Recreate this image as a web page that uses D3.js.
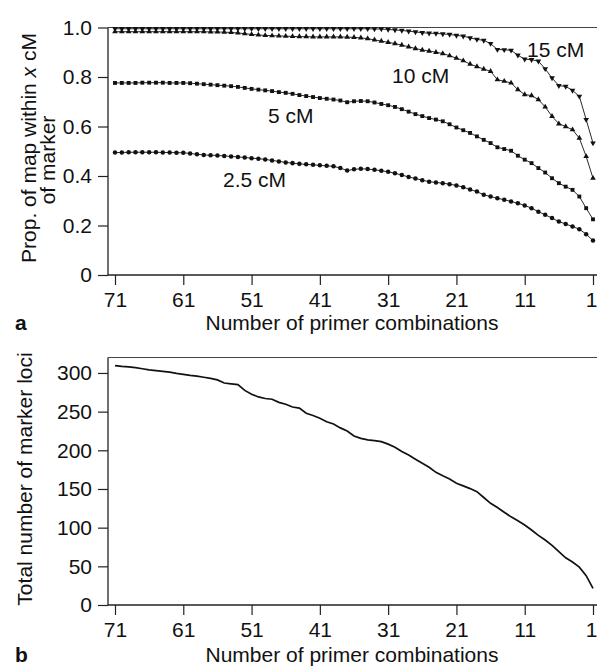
<!DOCTYPE html>
<html>
<head>
<meta charset="utf-8">
<script src="https://cdn.jsdelivr.net/npm/d3@7"></script>
<style>
  body { margin: 0; background: #fff; }
  text { font-family: "Liberation Sans", Arial, Helvetica, sans-serif; fill: #111; }
</style>
</head>
<body>
<script>
// number of primer combinations, left to right
var primers = d3.range(71, 0, -1);
var xTicks = [71, 61, 51, 41, 31, 21, 11, 1];
var propTicks = [0, 0.2, 0.4, 0.6, 0.8, 1.0];
var lociTicks = [0, 50, 100, 150, 200, 250, 300];

// panel a: proportion of map within x cM of a marker (x = 71 ... 1)
var cm15 = [
  0.995,0.995,0.995,0.995,0.995,0.995,0.995,0.995,0.995,0.995,
  0.995,0.995,0.995,0.995,0.995,0.995,0.995,0.995,0.995,0.995,
  0.995,0.995,0.995,0.995,0.995,0.995,0.995,0.995,0.995,0.995,
  0.995,0.995,0.995,0.995,0.995,0.995,0.995,0.995,0.994,0.994,
  0.992,0.990,0.988,0.985,0.982,0.979,0.977,0.976,0.974,0.972,
  0.968,0.965,0.958,0.952,0.948,0.935,0.911,0.910,0.908,0.888,
  0.872,0.870,0.864,0.833,0.796,0.765,0.762,0.746,0.722,0.628,0.533
];
var cm10 = [
  0.983,0.983,0.983,0.983,0.983,0.983,0.983,0.983,0.983,0.983,
  0.983,0.983,0.983,0.983,0.982,0.982,0.981,0.980,0.978,0.975,
  0.972,0.970,0.968,0.967,0.966,0.965,0.964,0.963,0.963,0.962,
  0.962,0.962,0.962,0.962,0.961,0.960,0.958,0.955,0.950,0.945,
  0.940,0.935,0.929,0.922,0.915,0.909,0.905,0.900,0.895,0.886,
  0.876,0.866,0.852,0.842,0.832,0.823,0.789,0.783,0.776,0.749,
  0.729,0.725,0.709,0.679,0.641,0.611,0.600,0.587,0.553,0.479,0.391
];
var cm5 = [
  0.776,0.776,0.776,0.776,0.777,0.777,0.777,0.777,0.776,0.776,
  0.776,0.775,0.773,0.771,0.769,0.767,0.765,0.763,0.760,0.756,
  0.752,0.749,0.746,0.743,0.739,0.736,0.732,0.727,0.723,0.719,
  0.715,0.712,0.709,0.705,0.698,0.702,0.703,0.702,0.697,0.691,
  0.686,0.679,0.670,0.660,0.650,0.642,0.634,0.628,0.621,0.609,
  0.596,0.585,0.574,0.560,0.546,0.533,0.516,0.509,0.502,0.482,
  0.466,0.452,0.432,0.414,0.391,0.371,0.357,0.344,0.317,0.270,0.225
];
var cm25 = [
  0.495,0.495,0.496,0.496,0.496,0.496,0.496,0.495,0.495,0.494,
  0.494,0.491,0.488,0.485,0.484,0.483,0.481,0.479,0.477,0.475,
  0.472,0.470,0.467,0.463,0.459,0.455,0.452,0.449,0.447,0.445,
  0.443,0.441,0.439,0.432,0.422,0.427,0.429,0.428,0.425,0.421,
  0.417,0.411,0.404,0.396,0.390,0.383,0.377,0.374,0.371,0.367,
  0.362,0.355,0.345,0.337,0.324,0.317,0.310,0.304,0.297,0.290,
  0.281,0.270,0.256,0.243,0.230,0.216,0.206,0.196,0.185,0.165,0.139
];
var seriesNames = ["15 cM", "10 cM", "5 cM", "2.5 cM"];

// panel b: total number of marker loci (x = 71 ... 1)
var loci = [
  309.5,308.5,307.8,307,305.5,304,303,302,301,299.5,
  298.3,297,296,294.5,293,291,287,286,285,277.5,
  272.5,269,267,266,262,259.5,256,254.5,248,245,
  241.4,237,234,229,225,218.5,215.5,213.4,212.5,211.2,
  208,204,198.5,194,188.5,183.2,178,171.5,167,163,
  157.4,154,150.5,146.5,139,131.5,126,120,114,109,
  103.5,97,90,84,77,69,61,55.5,49,38,21.6
];

var W = 597, H = 667;
var svg = d3.select("body").append("svg").attr("width", W).attr("height", H);

var x = d3.scaleLinear().domain([71, 1]).range([115, 593]);
var axisLeftX = 108, rightX = 597;
var fontSize = 21;

function styleAxis(a) {
  a.select(".domain").remove();
  a.selectAll("line").attr("stroke", "#222").attr("stroke-width", 1.2);
  a.selectAll("text").style("font-size", fontSize + "px").attr("fill", "#111")
    .style("font-family", '"Liberation Sans", Arial, sans-serif');
}

function drawFrame(y, top, bottom, ticks, fmt, letter, letterY) {
  var g = svg.append("g");
  // y axis
  g.append("g")
    .attr("transform", "translate(" + axisLeftX + ",0)")
    .call(d3.axisLeft(y).tickValues(ticks).tickFormat(fmt).tickSize(10).tickPadding(6).tickSizeOuter(0))
    .call(styleAxis);
  // x axis
  g.append("g")
    .attr("transform", "translate(0," + bottom + ")")
    .call(d3.axisBottom(x).tickValues(xTicks).tickSize(10).tickPadding(7).tickSizeOuter(0))
    .call(styleAxis)
    .call(function(a){
      // keep the last label ("1") inside the page
      a.selectAll(".tick text").filter(function(d){ return d === 1; })
        .attr("text-anchor", "end").attr("dx", "4");
    });
  // frame lines
  g.append("line").attr("x1", axisLeftX).attr("x2", axisLeftX).attr("y1", top).attr("y2", bottom)
    .attr("stroke", "#222").attr("stroke-width", 1.3);
  g.append("line").attr("x1", axisLeftX).attr("x2", rightX).attr("y1", bottom).attr("y2", bottom)
    .attr("stroke", "#222").attr("stroke-width", 1.3);
  g.append("line").attr("x1", axisLeftX).attr("x2", rightX).attr("y1", top).attr("y2", top)
    .attr("stroke", "#444").attr("stroke-width", 1.1);
  // x title and panel letter
  g.append("text").attr("x", 352).attr("y", letterY).attr("text-anchor", "middle")
    .style("font-size", fontSize + "px").text("Number of primer combinations");
  g.append("text").attr("x", 15).attr("y", letterY).style("font-size", fontSize + "px")
    .style("font-weight", "bold").text(letter);
  return g;
}

// ---------- panel a ----------
var yA = d3.scaleLinear().domain([0, 1]).range([275, 27.5]);
drawFrame(yA, 27.5, 275, propTicks, function(d){ return d === 0 ? "0" : d3.format(".1f")(d); }, "a", 330);

var tA = svg.append("text").attr("transform", "translate(36,148) rotate(-90)")
  .attr("text-anchor", "middle").style("font-size", fontSize + "px");
tA.append("tspan").text("Prop. of map within ");
tA.append("tspan").style("font-style", "italic").text("x");
tA.append("tspan").text(" cM");
svg.append("text").attr("transform", "translate(55,160) rotate(-90)")
  .attr("text-anchor", "middle").style("font-size", fontSize + "px").text("of marker");

var seriesA = [
  { name: seriesNames[0], vals: cm15, sym: d3.symbolTriangle, rot: 180, size: 14, lx: 527, ly: 57 },
  { name: seriesNames[1], vals: cm10, sym: d3.symbolTriangle, rot: 0, size: 14, lx: 392, ly: 83 },
  { name: seriesNames[2], vals: cm5, sym: d3.symbolSquare, rot: 0, size: 15, lx: 268, ly: 123 },
  { name: seriesNames[3], vals: cm25, sym: d3.symbolCircle, rot: 0, size: 16, lx: 223, ly: 187 }
];

var lineA = d3.line().x(function(d){ return x(d[0]); }).y(function(d){ return yA(d[1]); });

seriesA.forEach(function(s){
  var pts = primers.map(function(p, i){ return [p, s.vals[i]]; });
  svg.append("path").attr("d", lineA(pts)).attr("fill", "none")
    .attr("stroke", "#111").attr("stroke-width", 0.9);
  svg.append("g").selectAll("path").data(pts).enter().append("path")
    .attr("d", d3.symbol().type(s.sym).size(s.size))
    .attr("transform", function(d){
      return "translate(" + x(d[0]) + "," + yA(d[1]) + ") rotate(" + s.rot + ")";
    })
    .attr("fill", "#111");
  svg.append("text").attr("x", s.lx).attr("y", s.ly).style("font-size", fontSize + "px").text(s.name);
});

// ---------- panel b ----------
var yB = d3.scaleLinear().domain([0, 320]).range([605, 357.5]);
drawFrame(yB, 357.5, 605, lociTicks, d3.format("d"), "b", 662);

svg.append("text").attr("transform", "translate(32,479) rotate(-90)")
  .attr("text-anchor", "middle").style("font-size", fontSize + "px").text("Total number of marker loci");

var lineB = d3.line().x(function(d){ return x(d[0]); }).y(function(d){ return yB(d[1]); });
svg.append("path")
  .attr("d", lineB(primers.map(function(p, i){ return [p, loci[i]]; })))
  .attr("fill", "none").attr("stroke", "#111").attr("stroke-width", 1.7);
</script>
</body>
</html>
